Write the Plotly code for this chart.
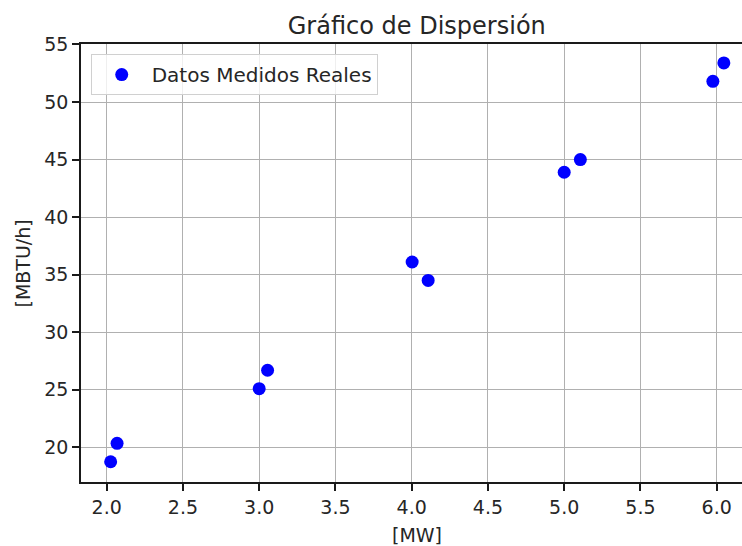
import plotly.graph_objects as go

# Data
x_mw = [2.026, 2.068, 3.000, 3.055, 4.003, 4.108, 5.000, 5.106, 5.975, 6.047]
y_mbtu = [18.75, 20.35, 25.1, 26.7, 36.1, 34.5, 43.9, 45.0, 51.8, 53.4]

series_name = "Datos Medidos Reales"
title_text = "Gráfico de Dispersión"
x_label = "[MW]"
y_label = "[MBTU/h]"

x_ticks = [2.0, 2.5, 3.0, 3.5, 4.0, 4.5, 5.0, 5.5, 6.0]
y_ticks = [20, 25, 30, 35, 40, 45, 50, 55]

FONT = "DejaVu Sans"
TXT = "#262626"

fig = go.Figure()
fig.add_trace(go.Scatter(
    x=x_mw, y=y_mbtu, mode="markers", name=series_name,
    marker=dict(color="#0000ff", size=13, line=dict(width=0)),
    showlegend=True,
))

axis_common = dict(
    showgrid=True, gridcolor="#b0b0b0", gridwidth=1.2,
    showline=True, linecolor="#1a1a1a", linewidth=1.5,
    ticks="outside", ticklen=7, tickwidth=1.5, tickcolor="#1a1a1a",
    tickfont=dict(family=FONT, size=19, color=TXT),
    zeroline=False, automargin=False, layer="above traces",
)

fig.update_layout(
    width=742, height=546,
    margin=dict(l=81, r=0, t=44, b=64, pad=0),
    paper_bgcolor="white", plot_bgcolor="white",
    template="none",
    font=dict(family=FONT, color=TXT),
    title=dict(text=title_text, font=dict(family=FONT, size=24, color=TXT),
               xref="paper", x=0.508, xanchor="center",
               yref="container", y=0.954, yanchor="middle"),
    xaxis=dict(range=[1.8315, 6.166], tickvals=x_ticks, tickformat=".1f",
               mirror=True, **axis_common),
    yaxis=dict(range=[16.99, 55.04], tickvals=y_ticks, mirror=False, **axis_common),
    legend=dict(x=0.0147, y=0.977, xanchor="left", yanchor="top",
                bgcolor="rgba(255,255,255,0.8)", bordercolor="#d0d0d0", borderwidth=1,
                itemwidth=50,
                font=dict(family=FONT, size=20, color=TXT)),
    annotations=[
        dict(text=x_label, xref="paper", yref="paper", x=0.5076, y=-0.122,
             xanchor="center", yanchor="middle", showarrow=False,
             font=dict(family=FONT, size=19, color=TXT)),
        dict(text=y_label, xref="paper", yref="paper", x=-0.087, y=0.5,
             xanchor="center", yanchor="middle", textangle=-90, showarrow=False,
             font=dict(family=FONT, size=19, color=TXT)),
    ],
)

fig.write_html("out.html")
